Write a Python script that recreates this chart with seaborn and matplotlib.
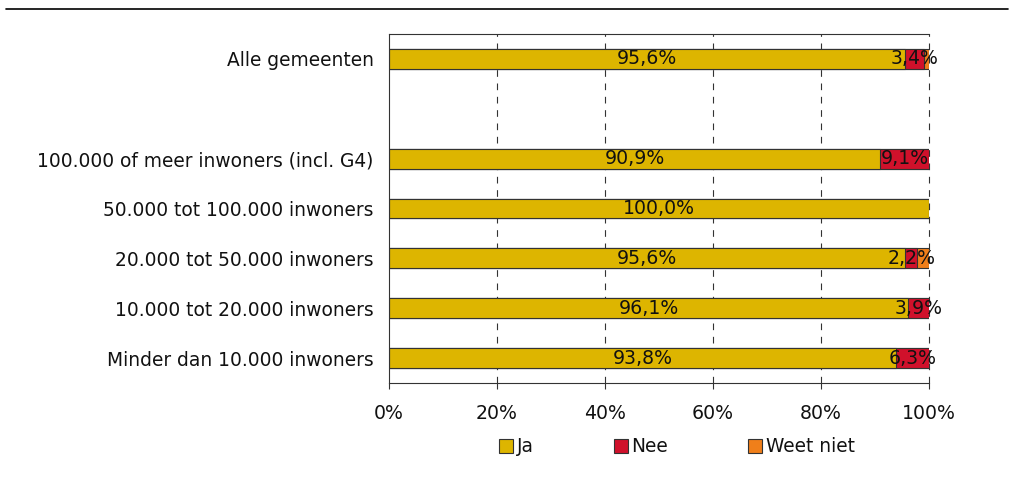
import matplotlib
matplotlib.use("Agg")
import matplotlib.pyplot as plt
from matplotlib.lines import Line2D
from matplotlib.patches import Patch
import seaborn as sns
import pandas as pd
import numpy as np

categories = ["Alle gemeenten", " ",
              "100.000 of meer inwoners (incl. G4)",
              "50.000 tot 100.000 inwoners",
              "20.000 tot 50.000 inwoners",
              "10.000 tot 20.000 inwoners",
              "Minder dan 10.000 inwoners"]
ja = [95.6, np.nan, 90.9, 100.0, 95.6, 96.1, 93.8]
nee = [3.4, np.nan, 9.1, 0.0, 2.2, 3.9, 6.3]
weet_niet = [1.0, np.nan, 0.0, 0.0, 2.2, 0.0, 0.0]
series_names = ["Ja", "Nee", "Weet niet"]
colors = ["#DDB500", "#D0112B", "#F07F1A"]
xticks = [0, 20, 40, 60, 80, 100]

sns.set_theme(style="white")
plt.rcParams["font.family"] = ["DejaVu Sans"]
plt.rcParams["text.color"] = "#111111"

df = pd.DataFrame({"cat": categories, "Ja": ja, "Nee": nee, "Weet niet": weet_niet})
df["c1"] = df["Ja"]
df["c2"] = df["Ja"] + df["Nee"]
df["c3"] = df["Ja"] + df["Nee"] + df["Weet niet"]

fig = plt.figure(figsize=(10.12, 4.93), dpi=100)
ax = fig.add_axes([389/1012, 1-383/493, (929-389)/1012, (383-34)/493])

for col, color in zip(["c3", "c2", "c1"], colors[::-1]):
    sns.barplot(data=df, y="cat", x=col, order=categories, orient="h",
                color=color, saturation=1, width=0.4, edgecolor="#333333",
                linewidth=0.8, ax=ax, errorbar=None)

def fmt(v):
    return f"{v:.1f}".replace(".", ",") + "%"

for i, row in df.iterrows():
    if np.isnan(row["Ja"]):
        continue
    left = 0
    for name in ["Ja", "Nee"]:
        v = row[name]
        if v > 0:
            ax.text(left + v/2, i, fmt(v), ha="center", va="center", fontsize=13.6,
                    color="#111111", clip_on=False, zorder=5)
        left += v

ax.set_xlim(0, 100)
ax.set_ylim(6.5, -0.5)
ax.set_xticks(xticks)
ax.set_xticklabels([f"{t}%" for t in xticks], fontsize=13.6, color="#111111")
ax.set_xlabel("")
ax.set_ylabel("")
ax.tick_params(axis="y", length=0, pad=11, labelsize=13.4, labelcolor="#111111")
ax.tick_params(axis="x", direction="out", length=4, width=0.8, pad=11, color="#333333", bottom=True)
for x in xticks[1:]:
    ax.axvline(x, color="#333333", linestyle=(0, (6, 6)), linewidth=0.8, zorder=0, clip_on=False)
ax.grid(False)
for s in ["top", "bottom", "left"]:
    ax.spines[s].set_visible(True)
    ax.spines[s].set_color("#333333")
    ax.spines[s].set_linewidth(0.8)
ax.spines["right"].set_visible(False)

handles = [Patch(facecolor=c, edgecolor="#333333", linewidth=0.8) for c in colors]
fig.legend(handles, series_names, loc="center", bbox_to_anchor=(677/1012, 1-447/493),
           ncol=3, frameon=False, fontsize=13.4, handlelength=0.75, handleheight=0.75,
           handletextpad=0.2, columnspacing=4.3)

fig.add_artist(Line2D([6/1012, 1008/1012], [1-9/493, 1-9/493], color="black", linewidth=1.2))

fig.savefig("out.png", dpi=100)
